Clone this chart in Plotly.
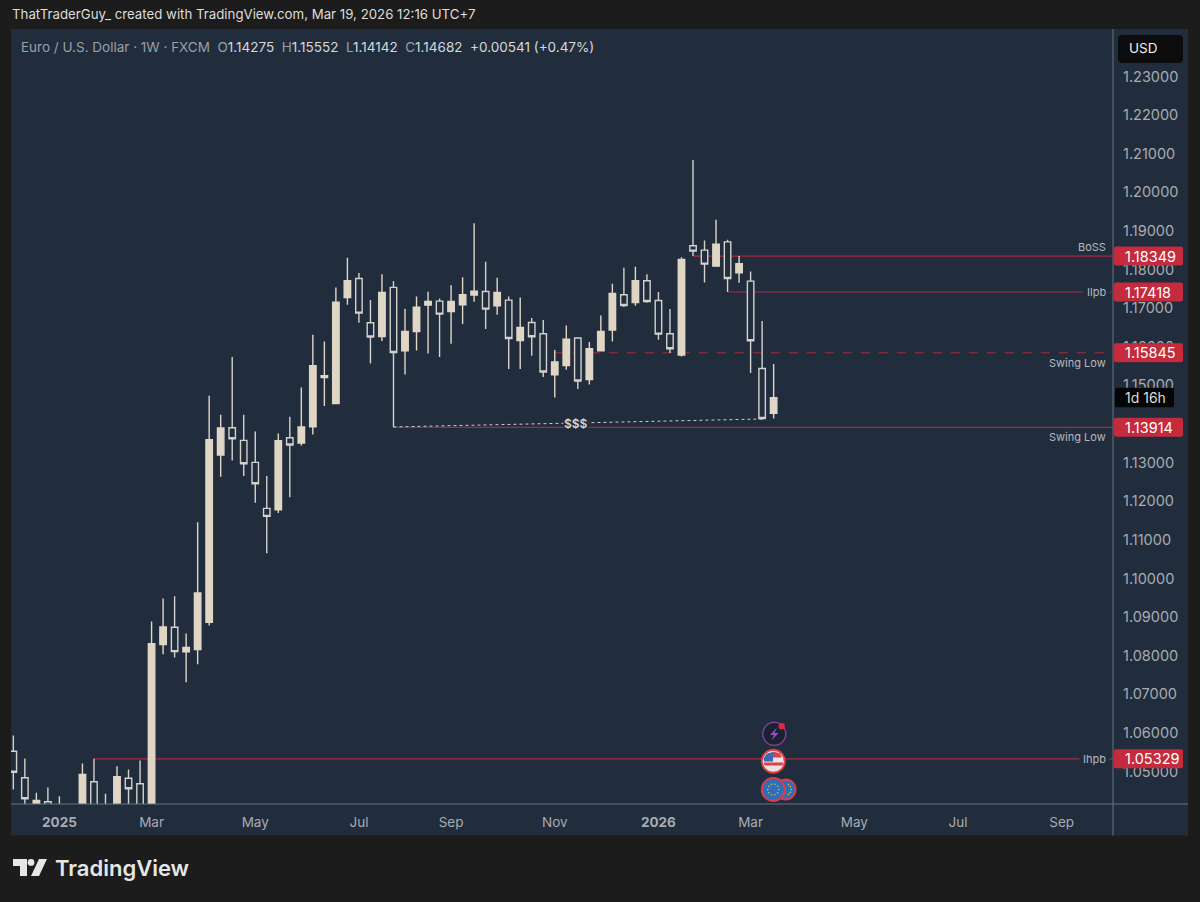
import math
import pandas as pd
import plotly.graph_objects as go

# weekly EURUSD candles
open_px = [1.05526, 1.04838, 1.04121, 1.04216, 1.03888, 1.03500, 1.03758, 1.04734, 1.03862, 1.03965, 1.04827, 1.04682,
           1.04017, 1.08287, 1.08735, 1.08098, 1.08158, 1.08865, 1.13197, 1.13903, 1.13575, 1.13005, 1.11815, 1.11781,
           1.13645, 1.13507, 1.13929, 1.15205, 1.14532, 1.17276, 1.17767, 1.16621, 1.16266, 1.17539, 1.15896, 1.16396,
           1.17079, 1.17182, 1.16913, 1.17087, 1.17338, 1.17431, 1.17061, 1.17208, 1.16163, 1.16629, 1.16336, 1.15275,
           1.15516, 1.16225, 1.15153, 1.15896, 1.16432, 1.17345, 1.17146, 1.17708, 1.17198, 1.16336, 1.15785, 1.18614,
           1.18502, 1.18088, 1.18717, 1.17915, 1.17700, 1.15438, 1.14275]
high_px = [1.05932, 1.05337, 1.04449, 1.04587, 1.04361, 1.04069, 1.05208, 1.05329, 1.04423, 1.05138, 1.05052, 1.05285,
           1.08883, 1.09478, 1.09537, 1.08572, 1.11453, 1.14732, 1.14240, 1.15733, 1.14240, 1.13808, 1.12653, 1.13756,
           1.14188, 1.14946, 1.16310, 1.16137, 1.17534, 1.18303, 1.17907, 1.17208, 1.17881, 1.17700, 1.16983, 1.17301,
           1.17423, 1.17250, 1.17596, 1.17803, 1.19201, 1.18200, 1.17785, 1.17301, 1.17276, 1.16742, 1.16691, 1.15914,
           1.16551, 1.16240, 1.16121, 1.16810, 1.17630, 1.18044, 1.18070, 1.17881, 1.17415, 1.16975, 1.18321, 1.20839,
           1.18751, 1.19286, 1.18769, 1.18349, 1.17948, 1.16665, 1.15552]
low_px = [1.04535, 1.04017, 1.03965, 1.03810, 1.03707, 1.03344, 1.03603, 1.03707, 1.03707, 1.03810, 1.03965, 1.03758,
          1.03965, 1.08036, 1.07951, 1.07312, 1.07778, 1.08779, 1.12635, 1.13057, 1.12653, 1.11962, 1.10650, 1.11696,
          1.12100, 1.13445, 1.13730, 1.14465, 1.14524, 1.17087, 1.16621, 1.15567, 1.16147, 1.13914, 1.15283, 1.15904,
          1.15826, 1.15733, 1.16077, 1.16587, 1.17164, 1.16458, 1.16828, 1.15422, 1.15422, 1.15767, 1.15216, 1.14687,
          1.15404, 1.14905, 1.15024, 1.15888, 1.16137, 1.17027, 1.17061, 1.17138, 1.16181, 1.15837, 1.15749, 1.18349,
          1.17664, 1.18078, 1.17418, 1.17656, 1.15319, 1.14110, 1.14142]
close_px = [1.04982, 1.04294, 1.04250, 1.03965, 1.04069, 1.03965, 1.04923, 1.03888, 1.04069, 1.04863, 1.04553, 1.03888,
            1.08313, 1.08745, 1.08106, 1.08210, 1.09625, 1.13593, 1.13896, 1.13619, 1.12972, 1.12454, 1.11608, 1.13567,
            1.13456, 1.13921, 1.15508, 1.15249, 1.17156, 1.17708, 1.16872, 1.16251, 1.17405, 1.15852, 1.16396, 1.17027,
            1.17172, 1.16846, 1.17172, 1.17345, 1.17441, 1.16975, 1.17405, 1.16214, 1.16499, 1.16258, 1.15345, 1.15604,
            1.16199, 1.15112, 1.15948, 1.16396, 1.17379, 1.17068, 1.17708, 1.17172, 1.16328, 1.15948, 1.18259, 1.18476,
            1.18140, 1.18657, 1.17767, 1.18148, 1.16155, 1.14144, 1.14682]
weeks = pd.date_range("2024-12-02", periods=len(open_px), freq="7D")

price_ticks = [1.05, 1.06, 1.07, 1.08, 1.09, 1.10, 1.11, 1.12, 1.13, 1.14, 1.15, 1.16, 1.17, 1.18, 1.19, 1.20, 1.21, 1.22, 1.23]
price_tick_labels = [f"{p:.5f}" for p in price_ticks]
price_tick_labels[9] = ""  # the 1.14000 label is covered by the 1.13914 tag
date_ticks = ["2024-12-30", "2025-02-24", "2025-04-28", "2025-06-30", "2025-08-25", "2025-10-27", "2025-12-29",
              "2026-02-23", "2026-04-27", "2026-06-29", "2026-08-31"]
date_labels = ["<b>2025</b>", "Mar", "May", "Jul", "Sep", "Nov", "<b>2026</b>", "Mar", "May", "Jul", "Sep"]

# drawn levels: price, start week, line dash, label text
level_px = [1.18349, 1.17418, 1.15845, 1.13914, 1.05329]
level_start = ["2026-01-19", "2026-02-09", "2025-10-27", "2025-07-21", "2025-01-20"]
level_dash = ["solid", "solid", "dash", "solid", "solid"]
level_text = ["BoSS", "Ilpb", "Swing Low", "Swing Low", "Ihpb"]
level_text_gap = [-9, 0, 10, 10, 0]

W, H = 1200, 902
L, R, T, B = 11, 1113, 29, 804.5
BG = "#1c1c1c"
PANEL = "#212d3d"
CANDLE = "#e0d6c6"
HOLLOW = "#d3d1cb"
RED = "#a52a3f"
TAG = "#c42b3c"
GREY = "#b2b5ba"
AXIS = "#6b7480"
FONT = "Inter"
Y0, Y1 = 1.04159, 1.24229


def px(x):
    return (x - L) / (R - L)


def py(y):
    return (B - y) / (B - T)


def price_y(p):
    return 76.5 + (1.23 - p) * 3864


def rect_path(x0, y0, x1, y1, r=2):
    a, b, c, d = px(x0), py(y0), px(x1), py(y1)
    rx, ry = r / (R - L), r / (B - T)
    return (f"M{a + rx},{b} L{c - rx},{b} Q{c},{b} {c},{b - ry} L{c},{d + ry} Q{c},{d} {c - rx},{d} "
            f"L{a + rx},{d} Q{a},{d} {a},{d + ry} L{a},{b - ry} Q{a},{b} {a + rx},{b} Z")


def poly(points):
    return "M" + " L".join(f"{px(x)},{py(y)}" for x, y in points) + " Z"


def poly_shape(points, fill):
    return dict(type="path", xref="paper", yref="paper", layer="above", fillcolor=fill, line=dict(width=0), path=poly(points))


def dot(cx, cy, r, fill, line=None, width=0):
    return dict(type="circle", xref="paper", yref="paper", x0=px(cx - r), x1=px(cx + r), y0=py(cy + r), y1=py(cy - r),
                fillcolor=fill, line=dict(color=line or fill, width=width), layer="above")


def label(x, y, text, size=13, color=GREY, anchor="left", bg=None, weight=None, font=FONT):
    return dict(xref="paper", yref="paper", x=px(x), y=py(y), text=text, showarrow=False, xanchor=anchor, yanchor="middle",
                font=dict(family=font, size=size, color=color, weight=weight), bgcolor=bg, borderpad=0)


fig = go.Figure(go.Candlestick(
    x=weeks, open=open_px, high=high_px, low=low_px, close=close_px,
    whiskerwidth=0,
    increasing=dict(fillcolor=CANDLE, line=dict(color=CANDLE, width=1.4)),
    decreasing=dict(fillcolor=PANEL, line=dict(color=HOLLOW, width=1.4)),
    showlegend=False,
))

shapes = [
    dict(type="rect", xref="paper", yref="paper", x0=px(11), x1=px(1188), y0=py(836), y1=py(29), fillcolor=PANEL,
         line=dict(width=0), layer="below"),
]
for p, start, dash in zip(level_px, level_start, level_dash):
    shapes.append(dict(type="line", xref="x", yref="y", x0=start, x1="2026-10-02", y0=p, y1=p,
                       line=dict(color=RED, width=1.2, dash=dash), layer="below"))
# liquidity sweep line between the two lows
shapes.append(dict(type="line", xref="x", yref="y", x0=level_start[3], x1=weeks[65], y0=low_px[33] + 0.0001, y1=low_px[65] + 0.0002,
                   line=dict(color="#c9ccd1", width=1, dash="dot"), layer="below"))
# axis borders
shapes.append(dict(type="line", xref="paper", yref="paper", x0=px(1113), x1=px(1113), y0=py(836), y1=py(29),
                   line=dict(color=AXIS, width=1), layer="above"))
shapes.append(dict(type="line", xref="paper", yref="paper", x0=px(11), x1=px(1188), y0=py(804.5), y1=py(804.5),
                   line=dict(color=AXIS, width=1.2), layer="above"))

annotations = [
    label(11, 14, "ThatTraderGuy_ created with TradingView.com, Mar 19, 2026 12:16 UTC+7", size=13.25, color="#dcdcdc"),
    label(19.5, 47, ('<span style="color:#9a9fa6">Euro / U.S. Dollar · 1W · FXCM  O</span>1.14275  '
                     '<span style="color:#9a9fa6">H</span>1.15552  <span style="color:#9a9fa6">L</span>1.14142  '
                     '<span style="color:#9a9fa6">C</span>1.14682  +0.00541 (+0.47%)'), size=13.5, color="#d6d8db"),
    label(1128, 48.5, "USD", size=13.5, color="#eeeeee"),
    label(576, 424, "$$$", size=12, color="#d5d7da", anchor="center", bg=PANEL, weight=600),
    label(1124, 398, "1d 16h", size=14, color="#dddddd"),
    label(54, 868.5, "TradingView", size=22, color="#e6e6e6", weight=600),
]

# USD box and countdown box
shapes.append(dict(type="path", xref="paper", yref="paper", path=rect_path(1118, 35, 1183, 63, 4), fillcolor="#0c0c0d",
                   line=dict(width=0), layer="above"))
shapes.append(dict(type="path", xref="paper", yref="paper", path=rect_path(1115, 388, 1174, 407.5, 2), fillcolor="#050505",
                   line=dict(width=0), layer="above"))

for p, text, gap in zip(level_px, level_text, level_text_gap):
    yc = price_y(p)
    shapes.append(dict(type="path", xref="paper", yref="paper", path=rect_path(1114, yc - 9.5, 1183, yc + 9.5, 2),
                       fillcolor=TAG, line=dict(width=0), layer="above"))
    annotations.append(label(1124, yc, f"{p:.5f}", size=14.5, color="#ffffff"))
    if gap == 0:
        # label sits on the line and breaks it
        annotations.append(label(1109.5, yc, f"&nbsp;{text}&nbsp;", size=11, color="#b5b8bd", anchor="right", bg=PANEL))
    else:
        annotations.append(label(1106.5, yc + gap, text, size=11, color="#b5b8bd", anchor="right"))

# event icons near the bottom of the chart
shapes += [
    dot(774.3, 734.3, 11.5, "#1a2130", "#7d3d98", 1.5),
    poly_shape([(777, 728), (770, 735.5), (774, 735.5), (771.5, 741), (778.5, 733.5), (774.5, 733.5)], "#9a4fc0"),
    dot(781.7, 726.7, 3.2, "#e0283c"),
    dot(773.3, 761.7, 11.5, "#e9e4e0", "#df3a48", 2),
    poly_shape([(773, 752), (780, 754), (782, 758), (773, 758)], "#d8404c"),
    poly_shape([(764, 763), (783, 763), (782.5, 766), (764.5, 766)], "#d8404c"),
    poly_shape([(773, 752.5), (767, 754), (764, 758), (764, 762), (773, 762)], "#3a69b5"),
    dot(785.7, 790, 10, "#2f6fb8", "#df3a48", 1.8),
    dot(773.3, 790, 11.5, "#2f6fb8", "#df3a48", 2),
]
for k in range(10):
    a = 2 * math.pi * k / 10
    shapes.append(dot(773.3 + 5.5 * math.cos(a), 790 + 5.5 * math.sin(a), 0.8, "#d8c04a"))
for k in range(-2, 3):
    a = math.pi * k / 6
    shapes.append(dot(785.7 + 5.5 * math.cos(a), 790 + 5.5 * math.sin(a), 0.8, "#d8c04a"))

# TradingView logo mark
shapes += [
    poly_shape([(13, 859.5), (27, 859.5), (27, 876.5), (20, 876.5), (20, 866.5), (13, 866.5)], "#e6e6e6"),
    dot(31, 863, 3.4, "#e6e6e6"),
    poly_shape([(39, 859.5), (47, 859.5), (39, 876.5), (31, 876.5)], "#e6e6e6"),
]

fig.update_layout(
    width=W, height=H,
    paper_bgcolor=BG, plot_bgcolor="rgba(0,0,0,0)",
    margin=dict(l=L, r=W - R, t=T, b=H - B, pad=0),
    autosize=False,
    boxgap=0.2,
    shapes=shapes,
    annotations=annotations,
    font=dict(family=FONT, color=GREY, size=13),
    xaxis=dict(type="date", range=["2024-11-30 14:00", "2026-10-01 05:00"], rangeslider=dict(visible=False),
               tickmode="array", tickvals=date_ticks, ticktext=date_labels, showgrid=False, zeroline=False,
               ticks="", tickfont=dict(size=13.5, color="#a8abb0"), ticklabelstandoff=8),
    yaxis=dict(side="right", range=[Y0, Y1], tickmode="array", tickvals=price_ticks, ticktext=price_tick_labels,
               showgrid=False, zeroline=False, ticks="", tickfont=dict(size=14.5, color="#a8abb0"), ticklabelstandoff=9),
)

# the page's default body margin would push the figure off by 8px
fig.write_html("out.html", config=dict(displayModeBar=False),
               post_script="document.body.style.margin='0';document.body.style.background='#1c1c1c';")
